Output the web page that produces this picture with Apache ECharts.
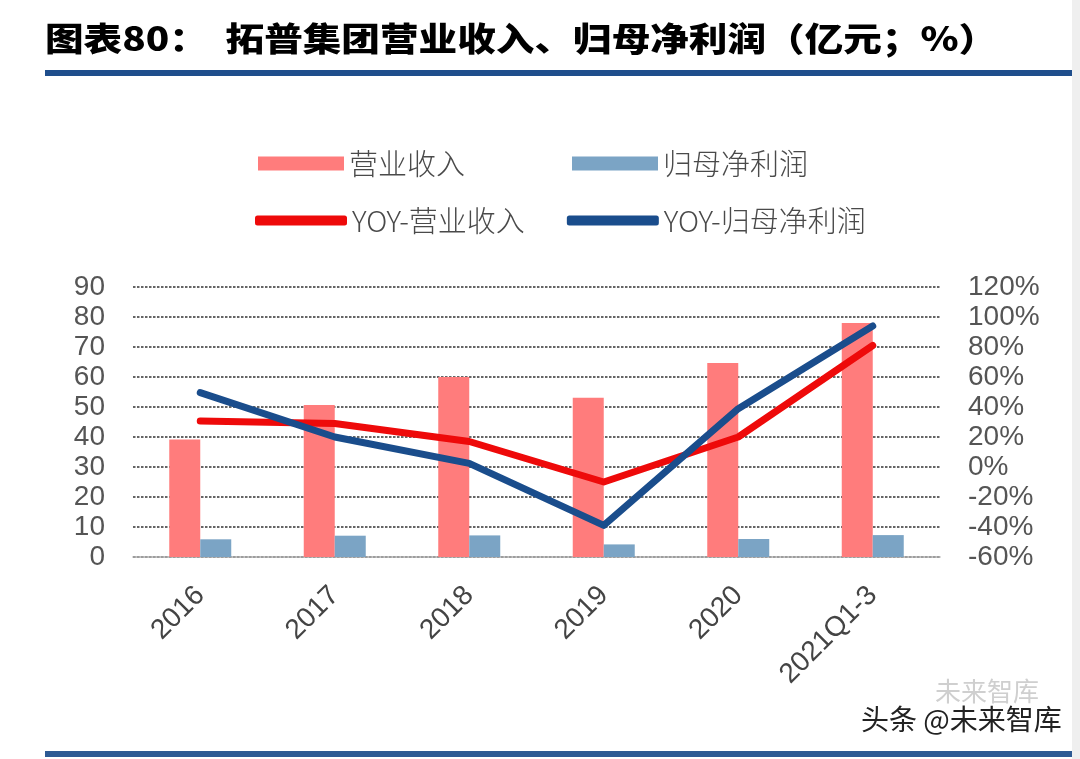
<!DOCTYPE html>
<html><head><meta charset="utf-8">
<script src="https://cdn.jsdelivr.net/npm/echarts@6/dist/echarts.min.js"></script>
<style>html,body{margin:0;padding:0;background:#fff}#c{width:1080px;height:759px}</style>
</head><body><div id="c"></div>
<script>
const categories = ['2016','2017','2018','2019','2020','2021Q1-3'];
const revenue = [39.2, 50.7, 60.0, 53.1, 64.7, 78.0];
const netProfit = [5.9, 7.1, 7.2, 4.2, 6.0, 7.3];
const yoyRevenue = [30.7, 29.0, 17.0, -10.0, 20.0, 81.0];
const yoyNetProfit = [49.6, 20.0, 2.4, -38.9, 38.9, 94.0];
const leftTicks = {min: 0, max: 90, interval: 10};
const rightTicks = {min: -60, max: 120, interval: 20};
const titleText = '图表80：  拓普集团营业收入、归母净利润（亿元；%）';

const chart = echarts.init(document.getElementById('c'));
const fontCN = '"Noto Sans CJK SC", "Noto Sans", sans-serif';
const numFont = '"Liberation Sans", Arial, sans-serif';
const gridLine = {show: true, lineStyle: {color: '#333', type: [2.5, 1.5], width: 1.5}};
chart.setOption({
  backgroundColor: '#fff',
  animation: false,
  graphic: [
    {type: 'text', x: 45, y: 38, scaleX: 1.17, scaleY: 1,
      style: {text: titleText, font: '900 33px "Noto Sans CJK SC"', fill: '#000', textVerticalAlign: 'middle', textAlign: 'left'}},
    {type: 'rect', shape: {x: 45, y: 70, width: 1027, height: 6}, style: {fill: '#1F4E8C'}},
    {type: 'rect', shape: {x: 45, y: 751, width: 1027, height: 6}, style: {fill: '#2D5A93'}},
    {type: 'rect', shape: {x: 1072, y: 0, width: 8, height: 759}, style: {fill: '#efefef'}},
    {type: 'text', x: 935, y: 678, style: {text: '未来智库', font: '400 26px "Noto Sans CJK SC"', fill: '#cfcfcf'}},
    {type: 'text', x: 861, y: 705, style: {text: '头条 @未来智库', font: '400 28px "Noto Sans CJK SC"', fill: '#222'}}
  ],
  legend: [
    {
      data: ['营业收入', '归母净利润'],
      left: 253, top: 144, itemWidth: 86, itemHeight: 14, itemGap: 107,
      icon: 'rect',
      textStyle: {fontFamily: fontCN, fontSize: 29, fontWeight: 300, color: '#4a4a4a'}
    },
    {
      data: ['YOY-营业收入', 'YOY-归母净利润'],
      left: 250, top: 201, itemWidth: 92, itemHeight: 10, itemGap: 42,
      icon: 'roundRect',
      textStyle: {fontFamily: fontCN, fontSize: 29, fontWeight: 300, color: '#4a4a4a'}
    }
  ],
  grid: {left: 133, right: 140, top: 287, bottom: 202, containLabel: false},
  xAxis: {
    type: 'category', data: categories,
    axisLine: {lineStyle: {color: '#b0b0b0', width: 1.5}},
    axisTick: {show: false},
    axisLabel: {rotate: 45, margin: 34, fontSize: 28, color: '#444', fontFamily: numFont}
  },
  yAxis: [
    {
      type: 'value', min: leftTicks.min, max: leftTicks.max, interval: leftTicks.interval,
      axisLine: {show: false}, axisTick: {show: false},
      axisLabel: {margin: 28, fontSize: 28, color: '#555', fontFamily: numFont},
      splitLine: gridLine
    },
    {
      type: 'value', min: rightTicks.min, max: rightTicks.max, interval: rightTicks.interval,
      axisLine: {show: false}, axisTick: {show: false},
      axisLabel: {margin: 28, fontSize: 28, color: '#555', formatter: '{value}%', fontFamily: numFont},
      splitLine: {show: false}
    }
  ],
  series: [
    {name: '营业收入', type: 'bar', data: revenue, barWidth: 31, barGap: '0%', itemStyle: {color: '#FF7C7C'}},
    {name: '归母净利润', type: 'bar', data: netProfit, barWidth: 31, barGap: '0%', itemStyle: {color: '#7BA4C5'}},
    {name: 'YOY-营业收入', type: 'line', yAxisIndex: 1, data: yoyRevenue, symbol: 'none',
      itemStyle: {color: '#EE0A0A'}, lineStyle: {width: 7, color: '#EE0A0A', cap: 'round', join: 'round'}, z: 3},
    {name: 'YOY-归母净利润', type: 'line', yAxisIndex: 1, data: yoyNetProfit, symbol: 'none',
      itemStyle: {color: '#1A4D8C'}, lineStyle: {width: 7, color: '#1A4D8C', cap: 'round', join: 'round'}, z: 4}
  ]
});
</script></body></html>
